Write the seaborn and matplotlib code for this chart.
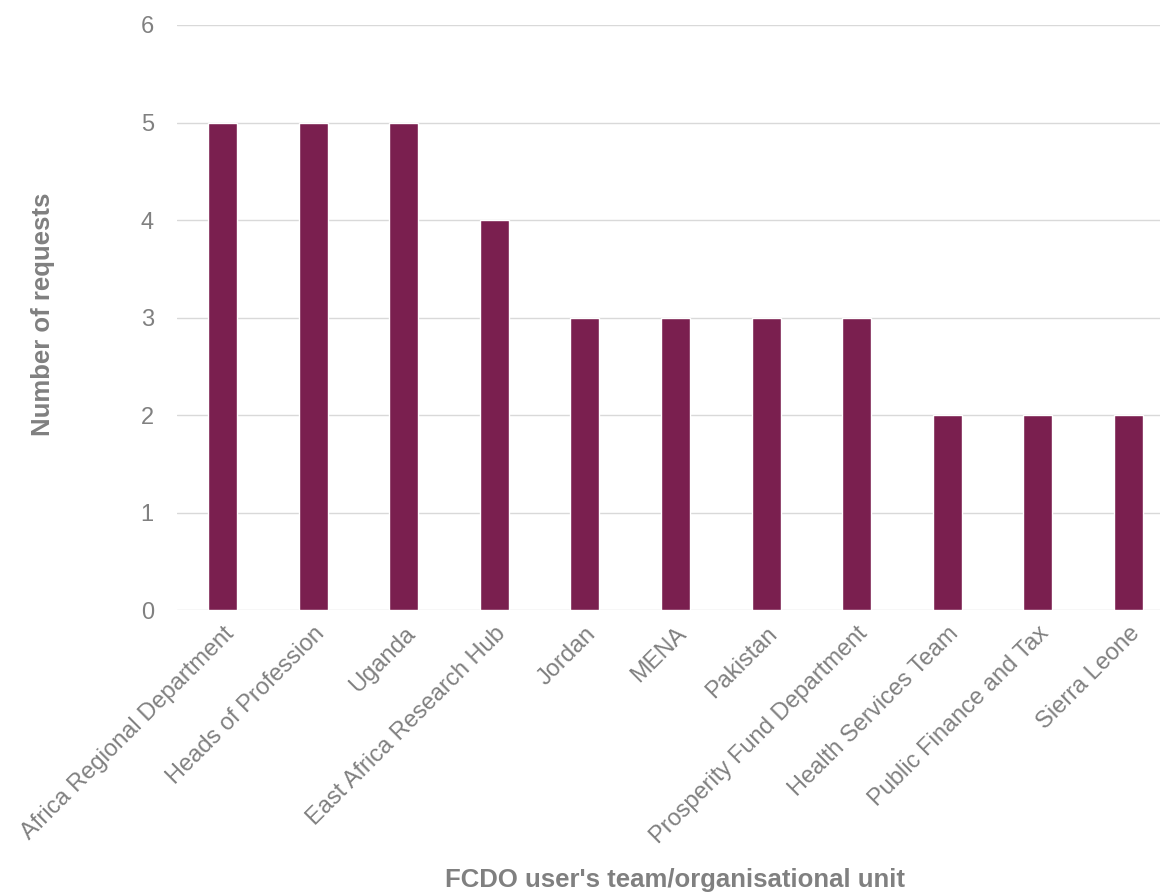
import pandas as pd
import matplotlib
matplotlib.use("Agg")
import matplotlib.pyplot as plt
import seaborn as sns

# Data
units = ["Africa Regional Department", "Heads of Profession", "Uganda",
         "East Africa Research Hub", "Jordan", "MENA", "Pakistan",
         "Prosperity Fund Department", "Health Services Team",
         "Public Finance and Tax", "Sierra Leone"]
requests = [5, 5, 5, 4, 3, 3, 3, 3, 2, 2, 2]

df = pd.DataFrame({"unit": units, "requests": requests})

sns.set_theme(style="white")
plt.rcParams["font.family"] = ["Liberation Sans", "DejaVu Sans"]

fig = plt.figure(figsize=(11.6, 8.92), dpi=100)
ax = fig.add_axes([0.153, 0.316, 0.847, 0.656])

sns.barplot(data=df, x="unit", y="requests", color="#7A1F4F", width=0.32,
            saturation=1, ax=ax, zorder=3)

ax.set_ylim(0, 6)
ax.set_xlim(-0.5, 10.35)
ax.set_yticks(range(0, 7))
ax.yaxis.grid(True, color="#D9D9D9", linewidth=1, zorder=0)
ax.set_axisbelow(True)
for s in ax.spines.values():
    s.set_visible(False)

gray = "#808080"
ax.tick_params(axis="both", length=0, colors=gray, labelsize=17)
ax.tick_params(axis="y", pad=17)
ax.tick_params(axis="x", pad=9)
plt.setp(ax.get_xticklabels(), rotation=45, ha="right", rotation_mode="anchor")

ax.set_xlabel("")
ax.set_ylabel("")
fig.text(43 / 1160, 1 - 314 / 892, "Number of requests", rotation=90,
         color=gray, fontsize=18.5, fontweight="bold", ha="center", va="center")
fig.text(675 / 1160, 1 - 880 / 892, "FCDO user's team/organisational unit",
         color=gray, fontsize=18.5, fontweight="bold", ha="center", va="center")

fig.savefig("out.png", dpi=100)
